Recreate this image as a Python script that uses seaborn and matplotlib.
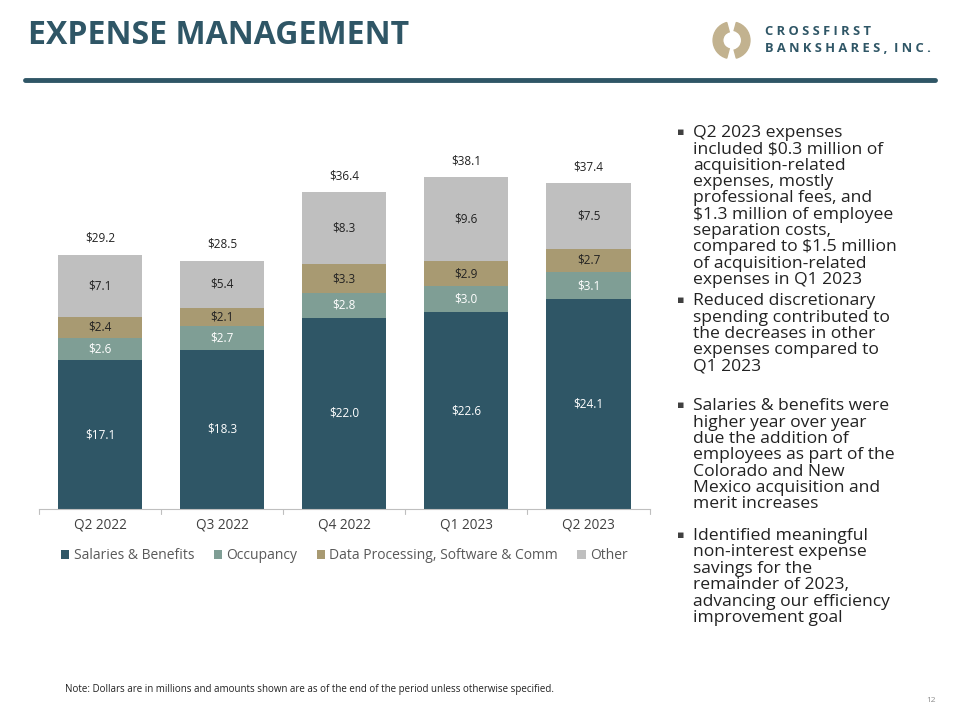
import numpy as np
import pandas as pd
import seaborn as sns
import matplotlib.pyplot as plt
from matplotlib.patches import Patch, Wedge

sns.set_theme(style="white")
plt.rcParams['font.family'] = ['Open Sans', 'DejaVu Sans']

quarters = ['Q2 2022', 'Q3 2022', 'Q4 2022', 'Q1 2023', 'Q2 2023']
salaries = [17.1, 18.3, 22.0, 22.6, 24.1]
occupancy = [2.6, 2.7, 2.8, 3.0, 3.1]
data_proc = [2.4, 2.1, 3.3, 2.9, 2.7]
other = [7.1, 5.4, 8.3, 9.6, 7.5]
totals = [29.2, 28.5, 36.4, 38.1, 37.4]

series_names = ['Salaries & Benefits', 'Occupancy', 'Data Processing, Software & Comm', 'Other']
colors = ['#2f5666', '#7f9e95', '#a89a72', '#bfbfbf']
label_colors = ['white', 'white', '#222222', '#222222']

navy = '#2f5666'

df = pd.DataFrame({'quarter': quarters, 'Salaries & Benefits': salaries,
                   'Occupancy': occupancy,
                   'Data Processing, Software & Comm': data_proc,
                   'Other': other})
cum = df[series_names].cumsum(axis=1)

fig = plt.figure(figsize=(9.6, 7.2), dpi=100)
ax = fig.add_axes([0.0406, 0.293, 0.636, 0.526])

# draw cumulative stacks, tallest first so lower segments sit on top
for name, col in reversed(list(zip(series_names, colors))):
    sns.barplot(x=df['quarter'], y=cum[name], color=col, width=0.69,
                saturation=1, linewidth=0, edgecolor='none', ax=ax, zorder=2)

# segment labels
for i in range(len(quarters)):
    for j, name in enumerate(series_names):
        top = cum[name].iloc[i]
        val = df[name].iloc[i]
        ax.text(i, top - val / 2, f'${val:.1f}', ha='center', va='center',
                fontsize=8.5, color=label_colors[j], zorder=3)
    ax.text(i, totals[i] + 1.9, f'${totals[i]:.1f}', ha='center', va='center',
            fontsize=8.5, color='#222222')

ax.set_xlim(-0.5, 4.5)
ax.set_ylim(0, 43.5)
ax.set_xlabel('')
ax.set_ylabel('')
ax.set_yticks([])
for s in ['top', 'right', 'left']:
    ax.spines[s].set_visible(False)
ax.spines['bottom'].set_color('#bfbfbf')
ax.spines['bottom'].set_linewidth(0.8)
ax.set_xticks(range(len(quarters)))
ax.set_xticklabels(quarters, fontsize=9.8, color='#404040')
ax.tick_params(axis='x', length=0, pad=6)
for b in np.arange(-0.5, 5, 1.0):
    ax.plot([b, b], [0, -0.6], color='#bfbfbf', lw=0.8, clip_on=False)

handles = [Patch(facecolor=c, edgecolor='none') for c in colors]
ax.legend(handles, series_names, loc='upper center', bbox_to_anchor=(0.5, -0.07),
          ncol=4, frameon=False, fontsize=10, handlelength=0.6, handleheight=0.6,
          handletextpad=0.3, columnspacing=1.4, labelcolor='#595959')

# header
fig.text(0.029, 0.951, 'EXPENSE MANAGEMENT', fontsize=23, fontweight='bold',
         color=navy, ha='left', va='center')
fig.add_artist(plt.Line2D([0.026, 0.974], [0.889, 0.889], color=navy, lw=3.5))

# logo
lax = fig.add_axes([0.738, 0.912, 0.048, 0.064])
lax.set_xlim(-1, 1)
lax.set_ylim(-1, 1)
lax.set_aspect('equal')
lax.axis('off')
lax.add_patch(Wedge((0, 0), 0.8, 105, 255, width=0.42, color='#c2b28f'))
lax.add_patch(Wedge((0, 0), 0.8, -75, 75, width=0.36, color='#c2b28f'))
fig.text(0.797, 0.956, 'C R O S S F I R S T', fontsize=9.3, fontweight='bold',
         color=navy, ha='left', va='center')
fig.text(0.797, 0.933, 'B A N K S H A R E S ,  I N C .', fontsize=9.3, fontweight='bold',
         color=navy, ha='left', va='center')

# bullets
bullets = [
    ('Q2 2023 expenses\nincluded $0.3 million of\nacquisition-related\nexpenses, mostly\n'
     'professional fees, and\n$1.3 million of employee\nseparation costs,\n'
     'compared to $1.5 million\nof acquisition-related\nexpenses in Q1 2023', 0.817),
    ('Reduced discretionary\nspending contributed to\nthe decreases in other\n'
     'expenses compared to\nQ1 2023', 0.583),
    ('Salaries & benefits were\nhigher year over year\ndue the addition of\n'
     'employees as part of the\nColorado and New\nMexico acquisition and\nmerit increases', 0.4375),
    ('Identified meaningful\nnon-interest expense\nsavings for the\n'
     'remainder of 2023,\nadvancing our efficiency\nimprovement goal', 0.257),
]
for txt, y in bullets:
    fig.text(0.705, y, '\u25aa', fontsize=8, color='#404040', ha='left', va='center',
             family=['DejaVu Sans'])
    fig.text(0.722, y + 0.0095, txt, fontsize=12.6, color='#222222', ha='left', va='top',
             linespacing=1.03)

fig.text(0.068, 0.042, 'Note: Dollars are in millions and amounts shown are as of the end '
         'of the period unless otherwise specified.', fontsize=7, color='#222222',
         ha='left', va='center')
fig.text(0.975, 0.027, '12', fontsize=6, color='#8c8c8c', ha='right', va='center')

fig.savefig('out.png', dpi=100, facecolor='white')
